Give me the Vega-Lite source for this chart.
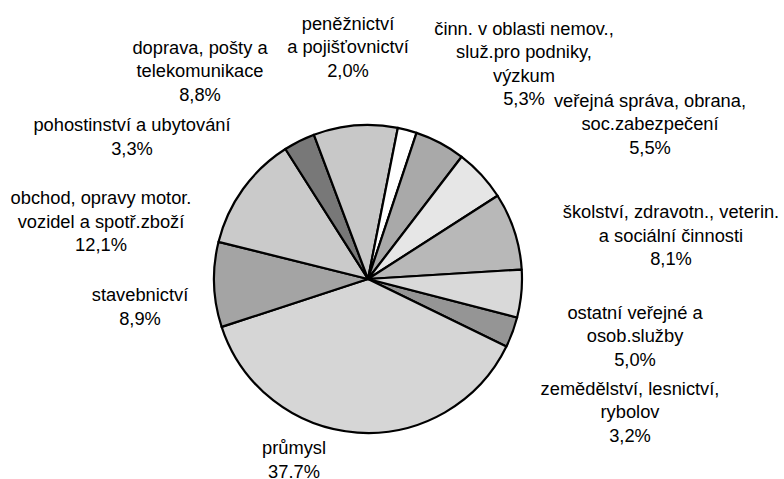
{
  "$schema": "https://vega.github.io/schema/vega-lite/v6.json",
  "autosize": {"type": "none"},
  "width": 736,
  "height": 400,
  "padding": {"left": 0, "top": 79, "right": 48, "bottom": 0},
  "background": "white",
  "view": {"stroke": null},
  "data": {
    "values": [
      {"order": 1, "sector": "zemědělství, lesnictví, rybolov", "value": 3.2, "label": "zemědělství, lesnictví,\nrybolov\n3,2%"},
      {"order": 2, "sector": "průmysl", "value": 37.7, "label": "průmysl\n37.7%"},
      {"order": 3, "sector": "stavebnictví", "value": 8.9, "label": "stavebnictví\n8,9%"},
      {"order": 4, "sector": "obchod, opravy motor. vozidel a spotř.zboží", "value": 12.1, "label": "obchod, opravy motor.\nvozidel a spotř.zboží\n12,1%"},
      {"order": 5, "sector": "pohostinství a ubytování", "value": 3.3, "label": "pohostinství a ubytování\n3,3%"},
      {"order": 6, "sector": "doprava, pošty a telekomunikace", "value": 8.8, "label": "doprava, pošty a\ntelekomunikace\n8,8%"},
      {"order": 7, "sector": "peněžnictví a pojišťovnictví", "value": 2.0, "label": "peněžnictví\na pojišťovnictví\n2,0%"},
      {"order": 8, "sector": "činn. v oblasti nemov., služ.pro podniky, výzkum", "value": 5.3, "label": "činn. v oblasti nemov.,\nslu\u017e.pro podniky,\nvýzkum\n5,3%"},
      {"order": 9, "sector": "veřejná správa, obrana, soc.zabezpečení", "value": 5.5, "label": "veřejná správa, obrana,\nsoc.zabezpečení\n5,5%"},
      {"order": 10, "sector": "školství, zdravotn., veterin. a sociální činnosti", "value": 8.1, "label": "školství, zdravotn., veterin.\na sociální činnosti\n8,1%"},
      {"order": 11, "sector": "ostatní veřejné a osob.služby", "value": 5.0, "label": "ostatní veřejné a\nosob.služby\n5,0%"}
    ]
  },
  "transform": [
    {"stack": "value", "groupby": [], "sort": [{"field": "order", "order": "ascending"}], "offset": "normalize", "as": ["v0", "v1"]},
    {"calculate": "(datum.v0 + datum.v1) / 2", "as": "mid"}
  ],
  "layer": [
    {
      "mark": {"type": "arc", "radius": 154, "stroke": "black", "strokeWidth": 2.2, "strokeJoin": "round"},
      "encoding": {
        "theta": {"field": "v0", "type": "quantitative", "stack": null, "scale": {"domain": [0, 1], "range": [1.8238, 8.107]}},
        "theta2": {"field": "v1"},
        "color": {
          "field": "sector",
          "type": "nominal",
          "legend": null,
          "scale": {
            "domain": [
              "zemědělství, lesnictví, rybolov",
              "průmysl",
              "stavebnictví",
              "obchod, opravy motor. vozidel a spotř.zboží",
              "pohostinství a ubytování",
              "doprava, pošty a telekomunikace",
              "peněžnictví a pojišťovnictví",
              "činn. v oblasti nemov., služ.pro podniky, výzkum",
              "veřejná správa, obrana, soc.zabezpečení",
              "školství, zdravotn., veterin. a sociální činnosti",
              "ostatní veřejné a osob.služby"
            ],
            "range": ["#959595", "#d6d6d6", "#a4a4a4", "#cacaca", "#787878", "#c8c8c8", "#ffffff", "#a9a9a9", "#e6e6e6", "#b8b8b8", "#d9d9d9"]
          }
        }
      }
    },
    {
      "mark": {"type": "text", "font": "Liberation Sans", "fontSize": 18.3, "lineHeight": 23.5, "lineBreak": "\n", "align": "center", "baseline": "middle", "color": "black"},
      "encoding": {
        "theta": {
          "field": "mid",
          "type": "quantitative",
          "stack": null,
          "scale": {
            "domain": [0.016016, 0.220721, 0.453954, 0.559059, 0.636136, 0.696697, 0.750751, 0.787287, 0.841341, 0.909409, 0.974975],
            "range": [1.9700, 3.5516, 4.6368, 5.0018, 5.2868, 5.6533, 6.2048, 6.8424, 7.2922, 7.6410, 7.9825]
          }
        },
        "radius": {
          "field": "mid",
          "type": "quantitative",
          "scale": {
            "type": "linear",
            "zero": false,
            "domain": [0.016016, 0.220721, 0.453954, 0.559059, 0.636136, 0.696697, 0.750751, 0.787287, 0.841341, 0.909409, 0.974975],
            "range": [284.35, 185.64, 228.65, 278.58, 281.12, 285.23, 255.28, 294.04, 333.21, 310.0, 269.22]
          }
        },
        "text": {"field": "label"}
      }
    }
  ],
  "resolve": {"scale": {"theta": "independent", "radius": "independent"}}
}
